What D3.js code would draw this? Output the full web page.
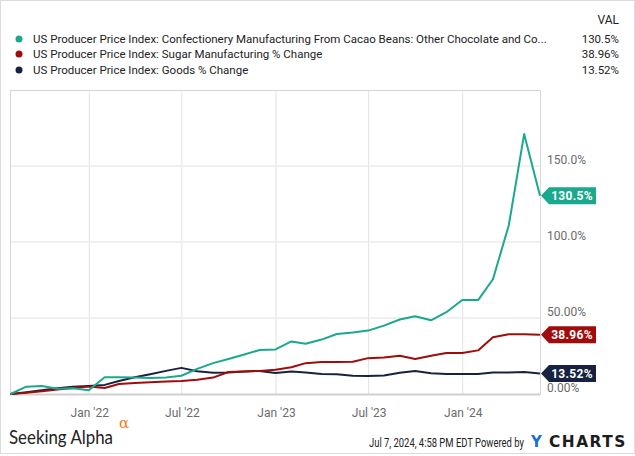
<!DOCTYPE html>
<html>
<head>
<meta charset="utf-8">
<script src="https://cdn.jsdelivr.net/npm/d3@7"></script>
<style>
  body { margin: 0; background: #fff; }
  svg { display: block; font-family: Roboto, "Liberation Sans", sans-serif; }
</style>
</head>
<body>
<div class="chart"></div>
<script>
// GLOBAL CONSTANTS
const FRAME_WIDTH = 635;
const FRAME_HEIGHT = 456;
const PLOT = {left: 10, right: 540, top: 90, bottom: 394};

// DATA (month-end observations, % change since Jul 2021)
const DATES = [
  "2021-07-31", "2021-08-31", "2021-09-30", "2021-10-31", "2021-11-30", "2021-12-31",
  "2022-01-31", "2022-02-28", "2022-03-31", "2022-04-30", "2022-05-31", "2022-06-30",
  "2022-07-31", "2022-08-31", "2022-09-30", "2022-10-31", "2022-11-30", "2022-12-31",
  "2023-01-31", "2023-02-28", "2023-03-31", "2023-04-30", "2023-05-31", "2023-06-30",
  "2023-07-31", "2023-08-31", "2023-09-30", "2023-10-31", "2023-11-30", "2023-12-31",
  "2024-01-31", "2024-02-29", "2024-03-31", "2024-04-30", "2024-05-31"
];
const COCOA = [
  0, 4.8, 5.2, 3.5, 3.8, 2.5, 11, 11, 10.8, 10.5, 10.8, 12,
  16.5, 20.3, 23, 26, 29, 29.3, 34.6, 33, 35.8, 39.5, 40.5, 41.7,
  45, 49, 51.2, 48.5, 53.8, 61.8, 61.8, 75.5, 111, 171, 130.5
];
const SUGAR = [
  0, 0.8, 1.8, 3, 4, 5, 4, 6.6, 7.2, 7.8, 8.2, 8.6,
  9.3, 10.8, 14.5, 14.8, 15.2, 15.9, 17.6, 20.3, 21, 21, 21.2, 23.6,
  24, 25.2, 23, 25.2, 27, 27, 28.7, 37.3, 39.3, 39.3, 38.96
];
const GOODS = [
  0, 1.2, 2.5, 3.8, 4.8, 5.3, 6, 8.5, 11, 13, 15.2, 17.2,
  15, 14, 14.2, 14.8, 15.2, 13.8, 14.8, 14.1, 13.2, 13, 12, 11.9,
  12.1, 14, 15.2, 13.7, 13.2, 13.1, 13.1, 14.2, 14.2, 14.5, 13.52
];
const SERIES_NAMES = [
  "US Producer Price Index: Confectionery Manufacturing From Cacao Beans: Other Chocolate and Co...",
  "US Producer Price Index: Sugar Manufacturing % Change",
  "US Producer Price Index: Goods % Change"
];
const LAST_LABELS = ["130.5%", "38.96%", "13.52%"];
const Y_TICKS = [0, 50, 100, 150];
const Y_TICK_LABELS = ["0.00%", "50.00%", "100.0%", "150.0%"];
const X_TICKS = ["2022-01-01", "2022-07-01", "2023-01-01", "2023-07-01", "2024-01-01"];
const COLORS = ["#19a98c", "#a10b0b", "#16223f"];

const parse = d3.timeParse("%Y-%m-%d");
const dates = DATES.map(parse);
const series = [COCOA, SUGAR, GOODS].map((vals, i) => ({
  name: SERIES_NAMES[i],
  label: LAST_LABELS[i],
  color: COLORS[i],
  values: vals.map((v, j) => ({date: dates[j], value: v}))
}));

const FRAME = d3.select(".chart")
  .append("svg")
    .attr("width", FRAME_WIDTH)
    .attr("height", FRAME_HEIGHT);

// outer border
FRAME.append("rect")
  .attr("x", 0.5).attr("y", 0.5)
  .attr("width", FRAME_WIDTH - 1).attr("height", FRAME_HEIGHT - 3)
  .attr("fill", "none").attr("stroke", "#dcdcdc");

const X_SCALE = d3.scaleTime()
  .domain([dates[0], dates[dates.length - 1]])
  .range([PLOT.left + 0.5, PLOT.right]);

const Y_SCALE = d3.scaleLinear()
  .domain([0, 200])
  .range([PLOT.bottom, PLOT.top]);

// GRID
FRAME.append("g")
  .selectAll("line")
  .data(X_TICKS.map(parse))
  .enter()
  .append("line")
    .attr("x1", (d) => X_SCALE(d)).attr("x2", (d) => X_SCALE(d))
    .attr("y1", PLOT.top).attr("y2", PLOT.bottom)
    .attr("stroke", "#e3e3e3").attr("stroke-width", 1);

FRAME.append("g")
  .selectAll("line")
  .data(Y_TICKS.slice(1))
  .enter()
  .append("line")
    .attr("x1", PLOT.left).attr("x2", PLOT.right)
    .attr("y1", (d) => Y_SCALE(d)).attr("y2", (d) => Y_SCALE(d))
    .attr("stroke", "#ebebeb").attr("stroke-width", 1.5);

// plot frame
FRAME.append("rect")
  .attr("x", PLOT.left + 0.5).attr("y", PLOT.top + 0.5)
  .attr("width", PLOT.right - PLOT.left).attr("height", PLOT.bottom - PLOT.top)
  .attr("fill", "none").attr("stroke", "#d6d6d6");
FRAME.append("line")
  .attr("x1", PLOT.left).attr("x2", PLOT.right)
  .attr("y1", PLOT.bottom + 0.5).attr("y2", PLOT.bottom + 0.5)
  .attr("stroke", "#cfcfcf").attr("stroke-width", 2);

// X AXIS
FRAME.append("g")
  .attr("transform", "translate(0," + PLOT.bottom + ")")
  .call(d3.axisBottom(X_SCALE)
    .tickValues(X_TICKS.map(parse))
    .tickSize(0)
    .tickPadding(14)
    .tickFormat(d3.timeFormat("%b '%y")))
  .call((g) => g.select(".domain").remove())
  .selectAll("text")
    .attr("font-size", "12px")
    .attr("font-family", "Roboto")
    .attr("fill", "#6b6b6b");

// Y AXIS (right)
FRAME.append("g")
  .attr("transform", "translate(" + (PLOT.right + 7) + ",-6)")
  .call(d3.axisRight(Y_SCALE)
    .tickValues(Y_TICKS)
    .tickSize(0)
    .tickPadding(0)
    .tickFormat((d, i) => Y_TICK_LABELS[i]))
  .call((g) => g.select(".domain").remove())
  .selectAll("text")
    .attr("font-size", "12px")
    .attr("font-family", "Roboto")
    .attr("fill", "#6b6b6b");

// LINES
const line = d3.line()
  .x((d) => X_SCALE(d.date))
  .y((d) => Y_SCALE(d.value));

FRAME.append("g")
  .selectAll("path")
  .data(series.slice().reverse())
  .enter()
  .append("path")
    .attr("d", (d) => line(d.values))
    .attr("fill", "none")
    .attr("stroke", (d) => d.color)
    .attr("stroke-width", 2)
    .attr("stroke-linejoin", "round");

// END VALUE TAGS
const tags = FRAME.append("g")
  .selectAll("g")
  .data(series)
  .enter()
  .append("g")
    .attr("transform", (d) => "translate(" + (PLOT.right + 1) + "," +
      Y_SCALE(d.values[d.values.length - 1].value) + ")");

tags.append("path")
  .attr("d", "M0,0 L8,-8.5 L55,-8.5 L55,8.5 L8,8.5 Z")
  .attr("fill", (d) => d.color);

tags.append("text")
  .attr("x", 31)
  .attr("y", 4.5)
  .attr("text-anchor", "middle")
  .attr("font-size", "12px")
  .attr("font-weight", "bold")
  .attr("letter-spacing", "0.3px")
  .attr("fill", "#fff")
  .text((d) => d.label);

// LEGEND
const LEGEND_Y = [39, 54, 70];

FRAME.append("text")
  .attr("x", 619).attr("y", 24)
  .attr("text-anchor", "end")
  .attr("font-size", "12px")
  .attr("fill", "#222")
  .text("VAL");

const rows = FRAME.append("g")
  .selectAll("g")
  .data(series)
  .enter()
  .append("g")
    .attr("transform", (d, i) => "translate(0," + LEGEND_Y[i] + ")");

rows.append("circle")
  .attr("cx", 19).attr("cy", 0).attr("r", 3.5)
  .attr("fill", (d) => d.color);

rows.append("text")
  .attr("x", 33).attr("y", 4)
  .attr("font-size", "11.5px")
  .attr("fill", "#222")
  .text((d) => d.name);

rows.append("text")
  .attr("x", 619).attr("y", 4)
  .attr("text-anchor", "end")
  .attr("font-size", "11.5px")
  .attr("fill", "#222")
  .text((d) => d.label);

// FOOTER
// squeeze a text horizontally so it spans the given width
function fitText(sel, x, y, width) {
  const w = sel.node().getComputedTextLength();
  sel.attr("transform", "translate(" + x + "," + y + ") scale(" + (width / w) + ",1)");
}

const sa = FRAME.append("text")
  .attr("font-family", "Lato, 'Open Sans', sans-serif")
  .attr("font-size", "20px")
  .attr("fill", "#222")
  .text("Seeking Alpha");
fitText(sa, 9, 444, 104);

FRAME.append("text")
  .attr("x", 119).attr("y", 428)
  .attr("font-family", "'DejaVu Serif', serif")
  .attr("font-size", "15px")
  .attr("fill", "#f58220")
  .text("α");

const stamp = FRAME.append("text")
  .attr("font-size", "12px")
  .attr("fill", "#222")
  .text("Jul 7, 2024, 4:58 PM EDT Powered by");
fitText(stamp, 369, 447, 155);

FRAME.append("text")
  .attr("x", 531).attr("y", 447)
  .attr("font-family", "'DejaVu Sans', sans-serif")
  .attr("font-size", "15px")
  .attr("font-weight", "bold")
  .attr("fill", "#1c6fd6")
  .text("Y");

const charts = FRAME.append("text")
  .attr("font-family", "'DejaVu Sans', sans-serif")
  .attr("font-size", "15px")
  .attr("font-weight", "bold")
  .attr("letter-spacing", "1.5px")
  .attr("fill", "#1c1c1c")
  .text("CHARTS");
fitText(charts, 549, 447, 78);
</script>
</body>
</html>
